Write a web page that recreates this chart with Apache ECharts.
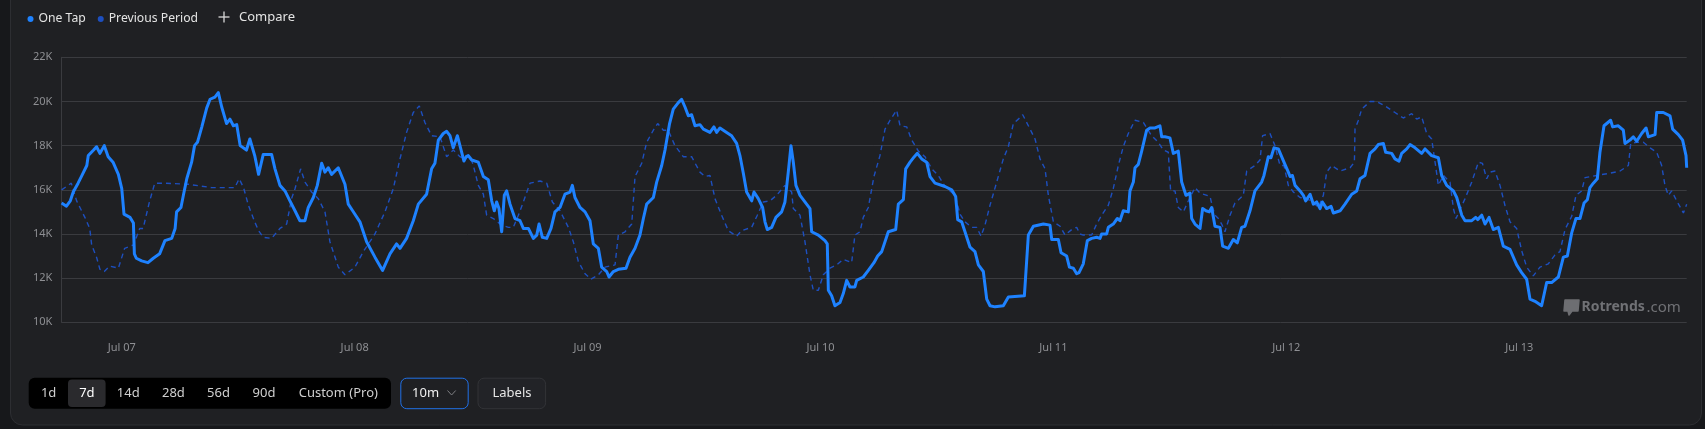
<!DOCTYPE html>
<html>
<head>
<meta charset="utf-8">
<script src="https://cdn.jsdelivr.net/npm/echarts@6/dist/echarts.min.js"></script>
<style>
  html, body { margin: 0; padding: 0; background: #17181b; }
  #chart { width: 1705px; height: 429px; }
</style>
</head>
<body>
<div id="chart"></div>
<script>
// ---- data (hours since Jul 07 00:00, values in thousands) ----
const dayLabels = ['Jul 07', 'Jul 08', 'Jul 09', 'Jul 10', 'Jul 11', 'Jul 12', 'Jul 13'];
const dayTicks = [0, 24, 48, 72, 96, 120, 144];
const yTicks = [10, 12, 14, 16, 18, 20, 22];

const oneTapHours = [
  -6.2,-5.7,-5.3,-5.0,-4.5,-4.1,-3.6,-3.45,-2.9,-2.6,-2.25,-1.8,-1.4,-0.9,-0.35,0,0.23,0.85,1.2,1.3,1.5,2.05,2.7,3.25,3.9,4.45,5.15,5.5,5.65,6.1,6.35,6.7,7.2,7.5,7.8,8.25,8.75,9.1,9.6,9.95,10.3,10.8,11.15,11.5,11.85,12.2,12.85,13.2,13.7,14.1,
  14.58,15.44,15.79,16.3,16.82,17.33,17.85,18.36,18.88,19.22,19.74,20.15,20.6,20.94,21.28,21.62,22.31,23.0,23.34,23.79,24.54,25.23,26.09,26.88,27.64,28.32,28.67,29.35,30.04,30.56,31.41,31.93,32.27,32.62,33.13,33.48,33.82,34.16,34.58,34.85,35.26,
  35.5,35.71,36.06,36.74,37.26,37.77,38.12,38.39,38.63,38.87,39.15,39.42,39.66,40.01,40.52,41.04,41.38,41.9,42.41,42.76,43.0,43.34,43.79,44.23,44.64,45.16,45.67,46.19,46.43,46.7,47.22,47.74,48.25,48.59,49.11,49.45,49.97,50.21,50.66,51.17,51.96,52.37,52.89,53.4,53.75,54.09,54.78,55.12,55.64,55.98,
  56.45,56.83,57.35,57.69,58.04,58.38,58.72,59.07,59.58,59.93,60.61,61.02,61.3,61.64,62.33,62.84,63.36,63.7,64.05,64.39,64.91,65.15,65.59,66.04,66.28,66.52,66.97,67.41,68.0,68.34,68.68,68.96,69.2,69.47,69.89,70.57,70.92,71.09,71.78,72.46,72.7,72.81,73.15,73.49,74.01,74.35,74.7,75.04,75.55,75.73,76.41,76.93,77.51,
  77.89,78.31,78.99,79.75,80.02,80.54,80.78,81.23,81.67,81.98,82.43,82.94,83.29,83.8,84.83,85.52,85.93,86.14,86.55,86.89,87.41,87.92,88.27,88.78,89.13,89.47,89.99,90.84,91.36,93.01,93.42,93.94,94.97,95.65,95.83,96.51,96.79,97.37,97.65,98.06,98.4,98.64,
  99.08,99.5,99.94,100.46,100.8,100.97,101.49,101.66,102.17,102.59,102.86,103.2,103.72,103.89,104.24,104.41,104.75,105.1,105.61,105.95,106.47,106.98,107.16,107.5,108.01,108.36,108.87,109.22,109.66,110.07,110.25,110.59,111.11,111.38,111.72,112.07,112.31,112.65,113.17,113.44,114.03,114.54,114.95,115.4,115.74,116.26,116.77,117.46,117.7,118.15,118.42,118.73,119.18,119.76,
  120.21,120.39,120.63,120.9,121.42,121.76,122.0,122.45,122.79,123.13,123.48,123.72,124.16,124.61,124.85,125.54,126.05,126.74,127.26,127.6,128.11,128.63,129.14,129.49,130.0,130.24,130.86,131.2,131.62,131.89,132.41,132.75,133.27,133.95,134.3,134.98,135.67,136.01,136.53,137.22,137.56,138.08,138.42,139.11,139.52,139.72,140.14,140.48,140.89,
  141.33,141.85,142.36,143.05,143.74,144.25,144.77,145.11,145.63,146.31,146.83,147.34,148.03,148.55,148.96,149.41,149.85,150.26,150.68,151.02,151.29,151.64,152.05,152.32,152.74,153.42,153.63,154.21,154.73,154.9,155.42,155.76,156.1,156.62,157.07,157.31,158.0,158.17,158.85,159.54,159.81,160.4,160.84,161.19,161.26
];
const oneTapValues = [
  15.4,15.26,15.5,15.9,16.3,16.65,17.1,17.55,17.8,17.95,17.65,18.0,17.5,17.25,16.7,16.05,14.9,14.75,14.5,13.1,12.9,12.78,12.7,12.9,13.1,13.7,13.8,14.25,15.0,15.2,15.75,16.5,17.25,18.0,18.15,18.85,19.7,20.1,20.2,20.4,19.75,19.0,19.2,18.9,18.95,18.0,17.8,18.3,17.55,16.7,
  17.6,17.6,16.95,16.2,15.95,15.5,15.05,14.6,14.6,15.2,15.65,16.2,17.2,16.8,17.0,16.7,17.0,16.25,15.35,15.05,14.55,13.65,12.95,12.35,13.1,13.55,13.35,13.8,14.6,15.35,15.8,16.95,17.2,18.25,18.55,18.65,18.45,17.9,18.45,18.0,17.3,
  17.5,17.55,17.35,17.25,16.6,16.45,15.5,15.05,15.45,15.15,14.1,15.75,15.95,15.35,14.7,14.6,14.25,14.25,13.8,13.95,14.45,13.85,13.8,14.25,15.0,15.2,15.8,15.9,16.2,15.65,15.2,15.0,14.6,13.55,13.35,12.5,12.3,12.05,12.3,12.4,12.45,12.95,13.35,13.95,14.7,15.35,15.65,16.35,17.1,17.8,
  19.0,19.65,19.95,20.1,19.75,19.35,19.4,18.9,18.95,18.75,18.6,18.85,18.6,18.8,18.6,18.45,18.1,17.55,16.75,15.9,15.5,15.9,15.6,15.2,14.55,14.2,14.3,14.75,15.0,15.45,16.8,18.0,17.25,16.2,15.75,15.35,15.15,14.1,13.95,13.7,13.55,11.45,11.2,10.75,10.9,11.3,11.9,11.6,11.6,11.9,12.05,12.35,12.7,
  13.0,13.2,14.1,14.2,15.35,15.55,16.95,17.25,17.5,17.65,17.4,17.25,16.6,16.3,16.15,16.0,15.7,14.65,14.55,14.1,13.4,13.2,12.6,12.3,11.05,10.75,10.7,10.75,11.15,11.2,13.95,14.35,14.45,14.4,13.75,13.75,13.15,13.0,12.5,12.45,12.2,12.25,
  12.65,13.7,13.8,13.85,13.8,14.0,14.0,14.3,14.45,14.7,14.6,15.05,15.0,15.95,16.35,17.0,17.15,17.75,18.7,18.8,18.8,18.9,18.4,18.4,18.35,17.65,17.75,16.35,15.75,15.85,14.7,14.45,14.25,15.15,15.05,15.0,15.2,14.35,14.3,13.45,13.35,13.75,13.6,14.3,14.35,15.05,15.95,16.35,16.65,17.5,17.45,17.9,17.85,17.25,
  16.8,16.6,16.65,16.2,15.95,15.75,15.5,15.8,15.35,15.45,15.15,15.45,15.15,15.25,14.95,15.05,15.35,15.8,15.95,16.5,16.65,17.65,17.85,18.05,18.1,17.7,17.65,17.4,17.3,17.65,17.85,18.05,17.9,17.65,17.85,17.55,17.45,16.65,16.2,15.95,15.65,14.85,14.6,14.6,14.75,14.65,14.85,14.45,14.75,
  14.2,14.3,13.45,13.3,12.6,12.25,11.95,11.05,10.95,10.75,11.8,11.8,12.05,12.95,13.0,14.05,14.7,14.7,15.4,15.55,16.1,16.3,16.5,17.7,18.9,19.15,18.85,18.9,18.7,18.1,18.25,18.4,18.2,18.55,18.8,18.4,18.5,19.5,19.5,19.35,18.75,18.5,18.25,17.55,17.0
];

const prevHours = [
  -6.2,-5.2,-4.65,-3.8,-3.3,-3.1,-2.6,-2.25,-1.8,-1.25,-0.35,0.3,1.2,1.85,2.2,2.85,3.4,4.45,6.85,9.25,11.65,12.1,12.55,13.05,13.7,14.1,
  14.58,15.44,16.3,16.99,17.5,17.85,18.43,18.88,19.56,20.25,20.94,21.45,22.31,23.0,24.03,24.89,26.09,27.12,27.98,28.67,29.35,30.04,30.66,31.24,31.93,32.79,33.48,34.16,34.85,
  35.3,35.89,36.23,36.74,37.26,37.6,38.29,39.15,39.84,40.35,40.87,41.38,42.07,43.1,43.79,44.37,45.16,46.02,46.53,47.05,47.74,48.35,49.11,49.8,50.83,51.17,51.86,52.55,52.89,53.58,54.09,54.78,55.22,55.81,56.3,
  57.0,57.86,58.72,59.58,60.1,60.61,61.13,61.81,62.5,63.36,63.87,64.91,65.49,66.11,66.79,67.48,68.34,69.03,69.2,69.89,70.4,70.92,71.26,71.78,72.29,72.98,73.67,74.35,75.21,75.55,76.07,76.41,76.93,77.51,
  78.13,78.65,79.17,79.85,80.2,80.88,81.4,82.09,82.77,83.46,84.14,84.83,85.86,86.38,86.89,87.58,88.1,88.54,88.95,89.47,90.16,90.84,91.36,91.87,92.39,92.84,93.42,94.11,94.62,95.14,95.48,96.0,96.69,97.2,97.89,98.4,
  98.74,99.08,99.94,100.46,100.97,101.66,102.17,102.69,103.2,103.72,104.41,105.27,106.12,106.81,107.33,107.84,108.08,108.53,108.87,109.39,110.07,110.59,111.11,112.14,112.41,112.65,113.0,113.34,113.68,114.2,114.71,115.57,115.92,116.77,117.29,117.56,118.32,118.83,119.35,119.76,
  120.21,120.73,121.42,121.93,122.62,123.3,123.82,124.16,124.68,125.54,126.57,127.02,127.08,127.43,127.77,128.63,129.31,130.17,131.2,132.06,132.92,133.44,133.95,134.47,134.98,135.33,135.67,136.19,136.87,137.22,137.49,138.42,139.11,139.8,140.21,140.65,
  140.99,141.5,142.02,142.53,143.05,143.74,144.25,144.77,145.45,146.14,147.0,147.69,148.2,148.72,149.41,149.85,150.44,150.78,151.98,153.36,154.39,155.25,155.49,156.1,156.79,157.48,158.17,158.68,159.02,159.37,159.71,160.23,160.92,161.26
];
const prevValues = [
  16.0,16.3,15.5,14.75,14.25,13.5,12.95,12.4,12.3,12.55,12.45,13.35,13.5,14.25,14.25,15.45,16.3,16.3,16.25,16.1,16.1,16.5,16.1,15.3,14.55,14.15,
  13.85,13.8,14.25,14.45,15.6,16.05,16.95,16.35,15.9,15.6,15.0,13.65,12.5,12.15,12.5,13.2,14.0,15.0,16.05,17.4,18.6,19.5,19.8,19.05,18.45,18.4,17.5,17.8,17.5,
  17.4,17.55,17.1,16.2,15.8,14.85,14.7,14.4,14.3,14.3,14.85,15.45,16.3,16.4,16.3,15.45,15.05,14.3,13.65,12.75,12.2,11.95,12.15,12.5,12.6,13.95,14.1,14.45,16.6,17.2,18.15,18.7,19.0,18.7,18.7,
  18.0,17.5,17.5,16.8,16.6,16.65,15.6,14.85,14.15,13.9,14.15,14.3,14.85,15.45,15.5,15.75,16.2,15.9,15.15,14.85,13.65,12.15,11.45,11.45,12.15,12.45,12.6,12.85,12.7,13.95,14.1,14.75,15.2,16.6,
  17.55,18.75,19.15,19.6,18.9,18.85,18.25,17.75,17.5,16.95,16.65,16.15,15.75,14.9,14.55,14.3,14.3,13.9,14.4,15.3,16.35,17.4,17.95,19.0,19.2,19.4,18.9,18.3,17.4,16.95,15.75,14.55,14.35,13.95,14.2,14.3,
  14.0,13.95,13.95,14.45,14.85,15.3,16.05,17.1,17.95,18.55,19.15,19.05,18.45,18.15,17.8,17.7,15.95,15.95,15.2,15.0,15.65,16.1,15.85,15.7,15.2,14.85,14.7,14.45,14.1,14.85,15.4,15.75,16.85,17.1,17.35,18.45,18.55,18.0,17.1,17.1,
  16.2,15.9,15.65,15.6,15.5,15.2,15.75,16.8,17.1,16.85,17.0,17.25,18.75,19.15,19.65,20.0,20.0,19.8,19.5,19.25,19.45,19.2,19.3,18.55,18.3,17.25,16.2,16.65,16.35,15.15,14.7,15.6,16.35,17.25,17.2,16.5,
  16.8,16.85,16.2,15.3,14.55,14.25,13.25,12.5,12.1,12.5,12.65,13.05,13.2,14.2,14.8,15.75,15.95,16.55,16.65,16.75,16.85,17.1,18.1,18.15,18.15,17.9,17.7,17.1,16.2,15.75,15.95,15.5,14.95,15.35
];

const xMin = -6.23, xMax = 161.26;

const FONT = "'Noto Sans', 'Open Sans', sans-serif";
const oneTapData = oneTapHours.map((h, i) => [h, oneTapValues[i]]);
const prevData = prevHours.map((h, i) => [h, prevValues[i]]);

const chart = echarts.init(document.getElementById('chart'), null, { renderer: 'canvas' });

// UI decorations (card, buttons, watermark)
const ranges = [
  { t: '1d', cx: 48.6 }, { t: '7d', cx: 86.9, sel: true }, { t: '14d', cx: 128.2 },
  { t: '28d', cx: 173.4 }, { t: '56d', cx: 218.5 }, { t: '90d', cx: 264 }, { t: 'Custom (Pro)', cx: 338.3 }
];
const graphics = [
  { type: 'rect', z: -10, silent: true, shape: { x: 10.5, y: -30, width: 1691, height: 455, r: 12 },
    style: { fill: '#1f2023', stroke: '#2d2e32', lineWidth: 1 } },
  // compare
  { type: 'line', shape: { x1: 218.5, y1: 17, x2: 229.5, y2: 17 }, style: { stroke: '#d8d8d8', lineWidth: 1.3 } },
  { type: 'line', shape: { x1: 224, y1: 11.5, x2: 224, y2: 22.5 }, style: { stroke: '#d8d8d8', lineWidth: 1.3 } },
  { type: 'text', x: 239, y: 17, style: { text: 'Compare', fill: '#e4e4e4', font: '13px ' + FONT, verticalAlign: 'middle' } },
  // range group
  { type: 'rect', shape: { x: 28.7, y: 377.7, width: 362.3, height: 31, r: 6 }, style: { fill: '#000000' } },
  { type: 'rect', shape: { x: 68, y: 379.5, width: 37.6, height: 27.5, r: 4 }, style: { fill: '#2a2a2d' } },
  // interval
  { type: 'rect', shape: { x: 400.8, y: 378.2, width: 67.4, height: 30.5, r: 6 }, style: { fill: '#1f2023', stroke: '#2170e6', lineWidth: 1 } },
  { type: 'text', x: 425.6, y: 393.5, style: { text: '10m', fill: '#f0f0f0', font: '13px ' + FONT, align: 'center', verticalAlign: 'middle' } },
  { type: 'polyline', shape: { points: [[447.5, 390.5], [451.6, 395], [455.7, 390.5]] }, style: { stroke: '#7d7e82', lineWidth: 1, fill: null } },
  // labels button
  { type: 'rect', shape: { x: 478, y: 378.2, width: 67.6, height: 30.5, r: 6 }, style: { fill: '#222327', stroke: '#323337', lineWidth: 1 } },
  { type: 'text', x: 512, y: 393.5, style: { text: 'Labels', fill: '#e6e6e6', font: '13px ' + FONT, align: 'center', verticalAlign: 'middle' } },
  // watermark
  { type: 'polygon', shape: { points: [[1565, 300], [1579, 300], [1578, 311], [1572, 311], [1569, 315], [1568, 311], [1564, 311]] },
    style: { fill: '#6d6e72', stroke: '#6d6e72', lineWidth: 1.5, lineJoin: 'round' } },
  { type: 'text', x: 1581.5, y: 307.5, style: { text: 'Rotrends', fill: '#707175', font: 'bold 14px ' + FONT, verticalAlign: 'middle' } },
  { type: 'text', x: 1646.5, y: 307.5, style: { text: '.com', fill: '#707175', font: '15px ' + FONT, verticalAlign: 'middle' } }
];
ranges.forEach(r => {
  graphics.push({ type: 'text', x: r.cx, y: 393.5, style: { text: r.t, fill: r.sel ? '#ffffff' : '#cfcfcf',
    font: '13px ' + FONT, align: 'center', verticalAlign: 'middle' } });
});

chart.setOption({
  backgroundColor: '#17181b',
  animation: false,
  textStyle: { fontFamily: FONT },
  legend: {
    left: 22.5, top: 8, padding: 5, icon: 'circle', itemWidth: 6, itemHeight: 6, itemGap: 12,
    textStyle: { color: '#e4e4e4', fontSize: 12.2, fontFamily: FONT },
    data: ['One Tap', 'Previous Period']
  },
  grid: { left: 61.3, right: 18.3, top: 57.3, bottom: 106.7 },
  xAxis: {
    type: 'value', min: xMin, max: xMax,
    axisLine: { show: false }, axisTick: { show: false }, splitLine: { show: false },
    axisLabel: {
      customValues: dayTicks, color: '#8e8f93', fontSize: 11, margin: 20,
      formatter: v => dayLabels[dayTicks.indexOf(Math.round(v))] || ''
    }
  },
  yAxis: {
    type: 'value', min: 10, max: 22, interval: 2,
    axisLine: { show: true, onZero: false, lineStyle: { color: '#3a3b3f' } },
    axisTick: { show: false },
    splitLine: { lineStyle: { color: '#3a3b3f', width: 1 } },
    axisLabel: { color: '#8e8f93', fontSize: 11, margin: 9,
      formatter: v => (yTicks.indexOf(v) >= 0 ? v + 'K' : '') }
  },
  series: [
    {
      name: 'Previous Period', type: 'line', data: prevData, showSymbol: false, z: 2,
      itemStyle: { color: '#1d4fbf' },
      lineStyle: { color: '#1d4fbf', width: 1.4, type: [5, 4] }
    },
    {
      name: 'One Tap', type: 'line', data: oneTapData, showSymbol: false, z: 3,
      itemStyle: { color: '#1e82ff' },
      lineStyle: { color: '#1e82ff', width: 3, join: 'round' }
    }
  ],
  graphic: graphics
});
</script>
</body>
</html>
